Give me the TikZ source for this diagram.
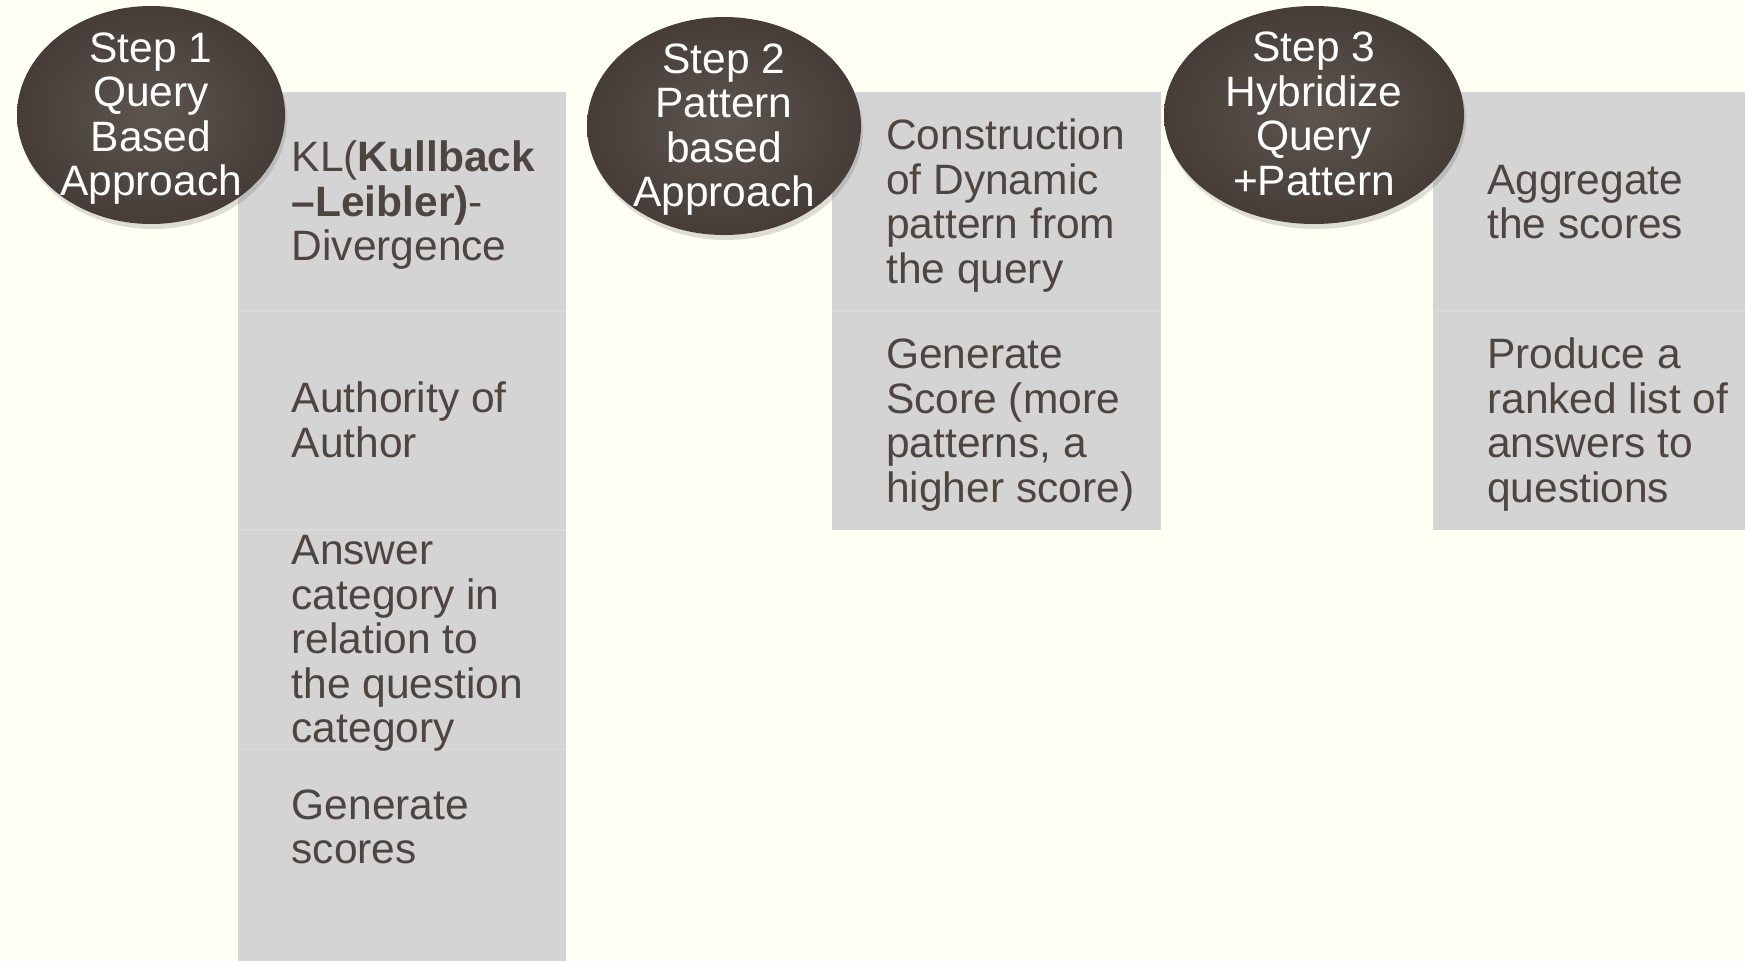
\documentclass[tikz,border=0pt]{standalone}
\usepackage{fontspec}
\setmainfont{Liberation Sans}
\usetikzlibrary{shapes.geometric,shadows}
\definecolor{bg}{HTML}{FFFFF3}
\definecolor{stepfill}{HTML}{4F4640}
\definecolor{stepedge}{HTML}{463D38}
\definecolor{boxfill}{HTML}{D4D4D4}
\definecolor{divider}{HTML}{DADADA}
\definecolor{txt}{HTML}{4E4540}
\begin{document}
\begin{tikzpicture}[x=1pt,y=-1pt,
  bigfont/.style={font=\fontsize{42.5}{44.5}\selectfont},
  stepnode/.style={ellipse, inner sep=0pt,
    inner color=stepfill!92!white, outer color=stepedge,
    drop shadow={shadow xshift=2pt, shadow yshift=-5pt, opacity=0.22, fill=black!60}},
  steptext/.style={bigfont, text=white, align=center, inner sep=0pt},
  itemtext/.style={bigfont, text=txt, align=left, anchor=west, inner sep=0pt},
  boxrect/.style={fill=boxfill},
  divline/.style={draw=divider, line width=1.5pt}
]
\useasboundingbox (0,0) rectangle (1745,961);
\fill[bg] (0,0) rectangle (1745,961);

% grey columns
\fill[boxrect] (238,92) rectangle (566,961);
\fill[boxrect] (832,92) rectangle (1161,530);
\fill[boxrect] (1433,92) rectangle (1745,530);

\draw[divline] (238,311) -- (566,311);
\draw[divline] (238,530) -- (566,530);
\draw[divline] (238,749) -- (566,749);
\draw[divline] (832,311) -- (1161,311);
\draw[divline] (1433,311) -- (1745,311);

% column 1 items
\node[itemtext] (a1) at (291.5,205.5) {KL(\textbf{Kullback}\\\textbf{–Leibler)}-\\Divergence};
\node[itemtext] (a2) at (291.5,420) {Authority of\\Author};
\node[itemtext] (a3) at (291.5,643.5) {Answer\\category in\\relation to\\the question\\category};
\node[itemtext] (a4) at (291.5,827) {Generate\\scores};

% column 2 items
\node[itemtext] (b1) at (886,205.5) {Construction\\of Dynamic\\pattern from\\the query};
\node[itemtext] (b2) at (886,425) {Generate\\Score (more\\patterns, a\\higher score)};

% column 3 items
\node[itemtext] (c1) at (1487,202) {Aggregate\\the scores};
\node[itemtext] (c2) at (1487,424.5) {Produce a\\ranked list of\\answers to\\questions};

% step ellipses
\node[stepnode, minimum width=268pt, minimum height=218pt] (s1) at (151,115) {};
\node[stepnode, minimum width=274pt, minimum height=218pt] (s2) at (724,126) {};
\node[stepnode, minimum width=300pt, minimum height=218pt] (s3) at (1314,115) {};
\node[steptext] (t1) at ([yshift=-3.5pt]s1.center) {Step 1\\Query\\Based\\Approach};
\node[steptext] (t2) at ([yshift=-3.5pt]s2.center) {Step 2\\Pattern\\based\\Approach};
\node[steptext] (t3) at ([yshift=1pt]s3.center) {Step 3\\Hybridize\\Query\\+Pattern};
\end{tikzpicture}
\end{document}
